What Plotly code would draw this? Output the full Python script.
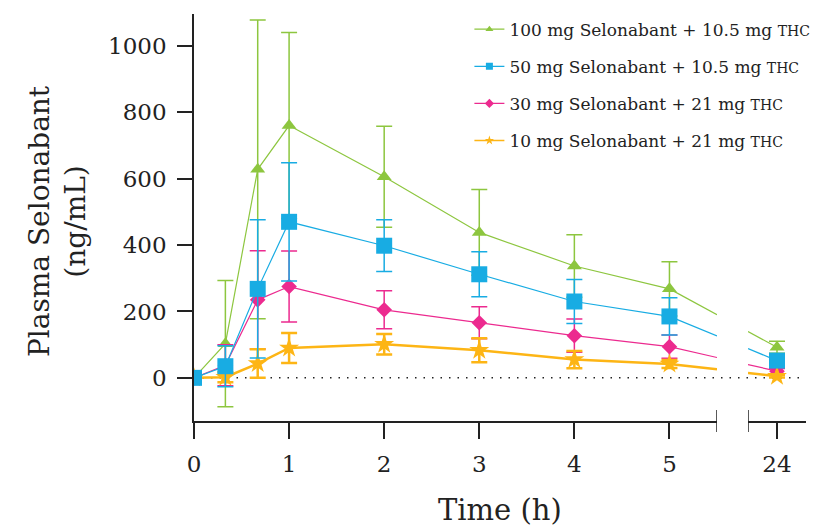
import plotly.graph_objects as go
import numpy as np

# ---- data ----
time_h = [0, 0.33, 0.67, 1, 2, 3, 4, 5, 24]
tick_vals_1 = [0, 1, 2, 3, 4, 5]
tick_vals_2 = [24]
y_ticks = [0, 200, 400, 600, 800, 1000]

green_mean = [0, 103, 628, 760, 606, 438, 337, 268, 92]
green_sd = [0, 190, 450, 280, 152, 129, 94, 82, 18]
blue_mean = [0, 35, 268, 470, 398, 312, 230, 185, 52]
blue_sd = [0, 62, 208, 178, 78, 68, 66, 56, 10]
pink_mean = [0, 38, 235, 275, 205, 166, 127, 94, 20]
pink_sd = [0, 62, 148, 107, 57, 48, 50, 35, 8]
orange_mean = [0, 2, 43, 90, 101, 83, 55, 42, 5]
orange_sd = [0, 15, 43, 45, 31, 36, 26, 12, 4]

names = [
    "100 mg Selonabant + 10.5 mg <span style='font-size:14px'>THC</span>",
    "50 mg Selonabant + 10.5 mg <span style='font-size:14px'>THC</span>",
    "30 mg Selonabant + 21 mg <span style='font-size:14px'>THC</span>",
    "10 mg Selonabant + 21 mg <span style='font-size:14px'>THC</span>",
]

FONT = "DejaVu Serif"
AX = "#222222"

# page body has an 8px margin, so the figure is sized/offset to compensate
W, H = 813, 519
ML, MR, MT, MB = 186, 15, 6, 106
plot_w = W - ML - MR
d1 = (717 - 194) / plot_w
d2 = (748 - 194) / plot_w
r1 = [0, 5.5]
r2 = [23.695, 24.305]


def paper_x(t):
    if t <= r1[1]:
        return (t - r1[0]) / (r1[1] - r1[0]) * d1
    return d2 + (t - r2[0]) / (r2[1] - r2[0]) * (1 - d2)


series = [
    dict(mean=green_mean, sd=green_sd, color="#8DC63F", sym="triangle-up", size=13, lw=1.2, ew=1.5, rank=1),
    dict(mean=pink_mean, sd=pink_sd, color="#EC2A8F", sym="diamond", size=12, lw=1.2, ew=1.5, rank=3),
    dict(mean=orange_mean, sd=orange_sd, color="#FDB515", sym="star", size=15, lw=2.5, ew=2.5, rank=4),
    dict(mean=blue_mean, sd=blue_sd, color="#18ACE3", sym="square", size=16, lw=1.2, ew=1.5, rank=2),
]
name_by_rank = {1: names[0], 2: names[1], 3: names[2], 4: names[3]}

fig = go.Figure()

t_arr = np.array(time_h, dtype=float)
seg1 = t_arr <= r1[1]
seg2 = ~seg1

for s in series:
    m = np.array(s["mean"], dtype=float)
    sd = np.array(s["sd"], dtype=float)
    # break-line interpolation in display space between last point of seg1 and first of seg2
    ta, tb = t_arr[seg1][-1], t_arr[seg2][0]
    ya, yb = m[seg1][-1], m[seg2][0]
    pa, pb = paper_x(ta), paper_x(tb)
    y_end1 = ya + (yb - ya) * (d1 - pa) / (pb - pa)
    y_start2 = ya + (yb - ya) * (d2 - pa) / (pb - pa)

    line = dict(color=s["color"], width=s["lw"])
    fig.add_trace(go.Scatter(x=[ta, r1[1]], y=[ya, y_end1], mode="lines", line=line,
                             showlegend=False, hoverinfo="skip", xaxis="x", yaxis="y"))
    fig.add_trace(go.Scatter(x=[r2[0], tb], y=[y_start2, yb], mode="lines", line=line,
                             showlegend=False, hoverinfo="skip", xaxis="x2", yaxis="y"))
    marker = dict(symbol=s["sym"], size=s["size"], color=s["color"], line=dict(width=0))
    err = lambda v: dict(type="data", array=list(v), visible=True, color=s["color"],
                         thickness=s["ew"], width=8)
    fig.add_trace(go.Scatter(x=list(t_arr[seg1]), y=list(m[seg1]), mode="lines+markers",
                             line=line, marker=marker, error_y=err(sd[seg1]),
                             showlegend=False, xaxis="x", yaxis="y"))
    fig.add_trace(go.Scatter(x=list(t_arr[seg2]), y=list(m[seg2]), mode="markers",
                             marker=marker, error_y=err(sd[seg2]),
                             showlegend=False, xaxis="x2", yaxis="y"))
    fig.add_trace(go.Scatter(x=[None], y=[None], mode="lines+markers",
                             line=dict(color=s["color"], width=min(s["lw"], 1.5)),
                             marker=dict(symbol=s["sym"], size=7, color=s["color"]),
                             name=name_by_rank[s["rank"]], legendrank=s["rank"],
                             legendgroup=f"g{s['rank']}", showlegend=True,
                             xaxis="x", yaxis="y"))

axis_common = dict(showline=True, linewidth=1.5, linecolor=AX, ticks="outside",
                   ticklen=16, tickwidth=1.5, tickcolor=AX, showgrid=False,
                   zeroline=False, ticklabelstandoff=6,
                   tickfont=dict(family=FONT, size=23, color=AX))

fig.update_layout(
    width=W, height=H,
    margin=dict(l=ML, r=MR, t=MT, b=MB, autoexpand=False),
    paper_bgcolor="white", plot_bgcolor="white",
    font=dict(family=FONT, color=AX),
    xaxis=dict(domain=[0, d1], range=r1, tickvals=tick_vals_1, anchor="y", **axis_common),
    xaxis2=dict(domain=[d2, 1], range=r2, tickvals=tick_vals_2, anchor="y", **axis_common),
    yaxis=dict(range=[-130, 1096], tickvals=y_ticks, showline=True, linewidth=1.5,
               linecolor=AX, ticks="outside", ticklen=15, tickwidth=1.5, tickcolor=AX,
               showgrid=False, zeroline=False, ticklabelstandoff=6,
               tickfont=dict(family=FONT, size=23, color=AX)),
    legend=dict(x=0.45, xref="paper", y=0.993, yref="container", xanchor="left",
                yanchor="top", bgcolor="rgba(0,0,0,0)",
                font=dict(family=FONT, size=17, color=AX), traceorder="grouped",
                tracegroupgap=12, itemwidth=30),
    showlegend=True,
)

fig.add_shape(type="line", xref="paper", yref="y", x0=0, x1=1, y0=0, y1=0,
              line=dict(color=AX, width=1.5, dash="1.5px,7px"), layer="below")
for xr, xv in (("x", r1[1]), ("x2", r2[0])):
    fig.add_shape(type="line", xref=xr, yref="paper", x0=xv, x1=xv, y0=0.027, y1=-0.027,
                  line=dict(color=AX, width=1.5))

fig.add_annotation(text="Time (h)", xref="paper", yref="paper", x=0.5, y=-0.219,
                   xanchor="center", yanchor="middle", showarrow=False,
                   font=dict(family=FONT, size=29, color=AX))
fig.add_annotation(text="Plasma Selonabant<br>(ng/mL)", xref="paper", yref="paper",
                   x=-0.224, y=0.491, xanchor="center", yanchor="middle", textangle=-90,
                   showarrow=False, font=dict(family=FONT, size=28, color=AX))

fig.write_html("out.html")
